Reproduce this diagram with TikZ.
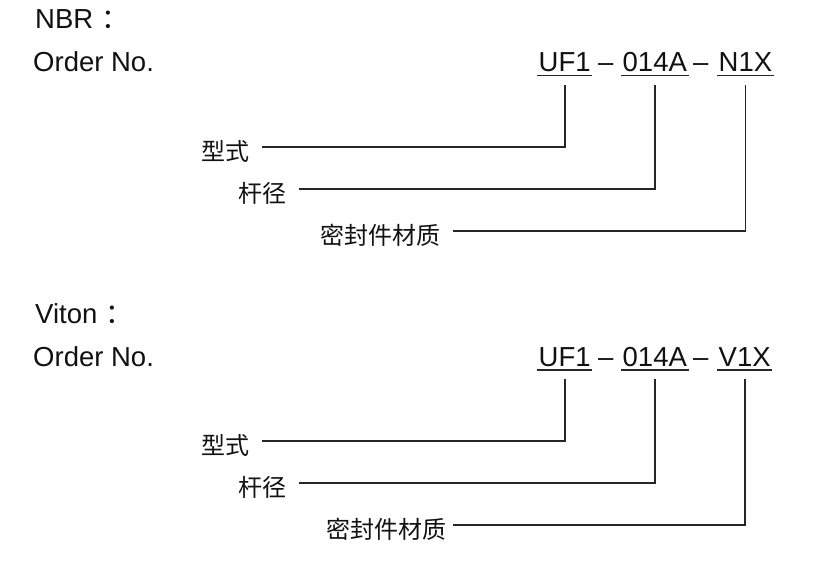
\documentclass[tikz,border=0pt]{standalone}
\usepackage{fontspec}
\setmainfont{Liberation Sans}
\newfontfamily\cjk{Noto Sans CJK SC}
\usetikzlibrary{positioning}
\definecolor{Ink}{HTML}{111111}
\definecolor{Rule}{HTML}{262626}
\tikzset{
  headtext/.style={anchor=base west,inner sep=0pt,font=\fontsize{27.5}{30}\selectfont,text=Ink},
  codepart/.style={anchor=base west,inner xsep=1.5pt,inner ysep=0pt,text depth=3.5pt,font=\fontsize{27.5}{30}\selectfont,text=Ink},
  fieldlabel/.style={anchor=east,inner sep=0pt,outer xsep=13pt,font=\cjk\fontsize{24}{26}\selectfont,text=Ink},
  underrule/.style={draw=Rule,line width=1.6pt},
  leader/.style={draw=Rule,line width=1.8pt}
}
\begin{document}
\begin{tikzpicture}[x=1pt,y=-1pt]
  \useasboundingbox (0,0) rectangle (827,575);
  % NBR block
  \node[headtext] (nbrhead) at (35,29) {NBR\hspace{8pt}{\cjk ：}};
  \node[headtext] (nbrorder) at (33,72) {Order No.};
  \node[codepart] (nbrtype) at (537,72) {UF1};
  \node[headtext] (nbrdash1) at (598,72) {–};
  \node[codepart] (nbrbore) at (621,72) {014A};
  \node[headtext] (nbrdash2) at (693,72) {–};
  \node[codepart] (nbrseal) at (717,72) {N1X};
  \node[fieldlabel] (nbrtypelbl) at (262,151) {型式};
  \node[fieldlabel] (nbrborelbl) at (299,193) {杆径};
  \node[fieldlabel] (nbrseallbl) at (453,235) {密封件材质};
  % Viton block
  \node[headtext] (vithead) at (35,323) {Viton\hspace{8pt}{\cjk ：}};
  \node[headtext] (vitorder) at (33,366) {Order No.};
  \node[codepart] (vittype) at (537,366) {UF1};
  \node[headtext] (vitdash1) at (598,366) {–};
  \node[codepart] (vitbore) at (621,366) {014A};
  \node[headtext] (vitdash2) at (693,366) {–};
  \node[codepart] (vitseal) at (717,366) {V1X};
  \node[fieldlabel] (vittypelbl) at (262,445) {型式};
  \node[fieldlabel] (vitborelbl) at (299,487) {杆径};
  \node[fieldlabel,outer xsep=7pt] (vitseallbl) at (453,529) {密封件材质};

  \foreach \part in {nbrtype,nbrbore,nbrseal,vittype,vitbore,vitseal}
    \draw[underrule] (\part.south west) -- (\part.south east);

  \foreach \part/\lbl in {nbrtype/nbrtypelbl,nbrbore/nbrborelbl,nbrseal/nbrseallbl,
                          vittype/vittypelbl,vitbore/vitborelbl,vitseal/vitseallbl}
    \draw[leader] ([yshift=-9.5pt]\part.south) |- ([yshift=4pt]\lbl.east);
\end{tikzpicture}
\end{document}
